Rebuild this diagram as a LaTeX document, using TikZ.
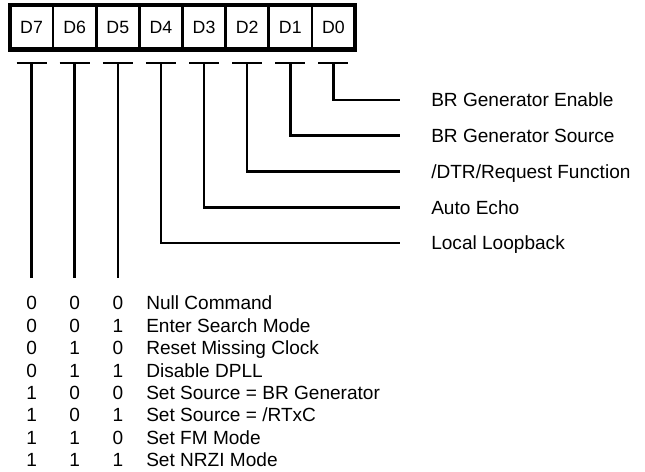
\documentclass[tikz,border=0pt]{standalone}
\usepackage{fontspec}
\setmainfont{Liberation Sans}
\tikzset{every picture/.style={line width=1.9pt}}
\tikzset{
    bitcell/.style={draw, line width=1.9pt, minimum width=32.35pt, minimum height=33.4pt, inner sep=0pt, outer sep=0pt, font=\fontsize{13.3}{16}\selectfont},
    bitval/.style={inner sep=0pt, text height=10.2pt, text depth=0pt},
    desc/.style={anchor=west, inner sep=0pt, text height=10.2pt, text depth=0pt}
}

\begin{document}
\begin{tikzpicture}[x=0.75pt, y=-0.75pt, every node/.style={font=\fontsize{14.3}{17}\selectfont}]
            \useasboundingbox (0,0) rectangle (645,471);
            \node[bitcell] (d7) at (31.56,27.25) {D7};
            \node[bitcell] (d6) at (74.69,27.25) {D6};
            \node[bitcell] (d5) at (117.81,27.25) {D5};
            \node[bitcell] (d4) at (160.94,27.25) {D4};
            \node[bitcell] (d3) at (204.06,27.25) {D3};
            \node[bitcell] (d2) at (247.19,27.25) {D2};
            \node[bitcell] (d1) at (290.31,27.25) {D1};
            \node[bitcell] (d0) at (333.44,27.25) {D0};
            \draw[line width=3pt] (d7.north west) rectangle (d0.south east);
            \draw[line width=3.75pt] (d7.south west) -- (d0.south east);
            % tops of the bit lines, under each cell
            \coordinate (t7) at (31.56,63);
            \coordinate (t6) at (74.69,63);
            \coordinate (t5) at (117.81,63);
            \coordinate (t4) at (160.94,63);
            \coordinate (t3) at (204.06,63);
            \coordinate (t2) at (247.19,63);
            \coordinate (t1) at (290.31,63);
            \coordinate (t0) at (333.44,63);
            \coordinate (e7) at (31.56,278);
            \coordinate (e6) at (74.69,278);
            \coordinate (e5) at (117.81,278);
            \node[desc] (enable) at (430,100) {BR Generator Enable};
            \node[desc] (source) at (430,135.75) {BR Generator Source};
            \node[desc] (dtr) at (430,171.5) {/DTR/Request Function};
            \node[desc] (echo) at (430,207.25) {Auto Echo};
            \node[desc] (loop) at (430,243) {Local Loopback};
            \draw ([xshift=-11.25pt]t0) -- ([xshift=11.25pt]t0) (t0) |- ([xshift=-22.5pt]enable.west);
            \draw ([xshift=-11.25pt]t1) -- ([xshift=11.25pt]t1) (t1) |- ([xshift=-22.5pt]source.west);
            \draw ([xshift=-11.25pt]t2) -- ([xshift=11.25pt]t2) (t2) |- ([xshift=-22.5pt]dtr.west);
            \draw ([xshift=-11.25pt]t3) -- ([xshift=11.25pt]t3) (t3) |- ([xshift=-22.5pt]echo.west);
            \draw ([xshift=-11.25pt]t4) -- ([xshift=11.25pt]t4) (t4) |- ([xshift=-22.5pt]loop.west);
            \draw ([xshift=-11.25pt]t5) -- ([xshift=11.25pt]t5) (t5) -- (e5);
            \draw ([xshift=-11.25pt]t6) -- ([xshift=11.25pt]t6) (t6) -- (e6);
            \draw ([xshift=-11.25pt]t7) -- ([xshift=11.25pt]t7) (t7) -- (e7);
            % mode table for D7 D6 D5
            \node[bitval] (a0) at (31.56,303) {0}; \node[bitval] (b0) at (74.69,303) {0}; \node[bitval] (c0) at (117.81,303) {0}; \node[desc] (cmd0) at (145,303) {Null Command};
            \node[bitval] (a1) at (31.56,325.4) {0}; \node[bitval] (b1) at (74.69,325.4) {0}; \node[bitval] (c1) at (117.81,325.4) {1}; \node[desc] (cmd1) at (145,325.4) {Enter Search Mode};
            \node[bitval] (a2) at (31.56,347.8) {0}; \node[bitval] (b2) at (74.69,347.8) {1}; \node[bitval] (c2) at (117.81,347.8) {0}; \node[desc] (cmd2) at (145,347.8) {Reset Missing Clock};
            \node[bitval] (a3) at (31.56,370.2) {0}; \node[bitval] (b3) at (74.69,370.2) {1}; \node[bitval] (c3) at (117.81,370.2) {1}; \node[desc] (cmd3) at (145,370.2) {Disable DPLL};
            \node[bitval] (a4) at (31.56,392.6) {1}; \node[bitval] (b4) at (74.69,392.6) {0}; \node[bitval] (c4) at (117.81,392.6) {0}; \node[desc] (cmd4) at (145,392.6) {Set Source = BR Generator};
            \node[bitval] (a5) at (31.56,415) {1}; \node[bitval] (b5) at (74.69,415) {0}; \node[bitval] (c5) at (117.81,415) {1}; \node[desc] (cmd5) at (145,415) {Set Source = /RTxC};
            \node[bitval] (a6) at (31.56,437.4) {1}; \node[bitval] (b6) at (74.69,437.4) {1}; \node[bitval] (c6) at (117.81,437.4) {0}; \node[desc] (cmd6) at (145,437.4) {Set FM Mode};
            \node[bitval] (a7) at (31.56,459.8) {1}; \node[bitval] (b7) at (74.69,459.8) {1}; \node[bitval] (c7) at (117.81,459.8) {1}; \node[desc] (cmd7) at (145,459.8) {Set NRZI Mode};
        \end{tikzpicture}
\end{document}
